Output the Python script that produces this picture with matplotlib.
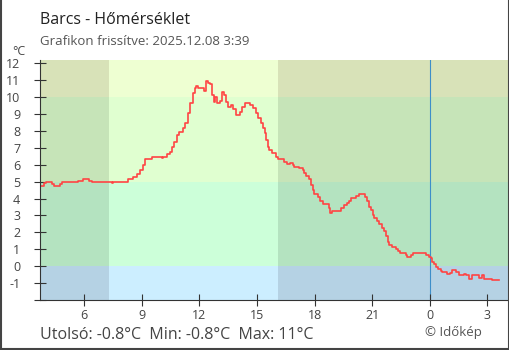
import matplotlib
matplotlib.use('Agg')
import matplotlib.pyplot as plt
from matplotlib.lines import Line2D

plt.rcParams['font.family'] = ['Open Sans', 'DejaVu Sans']

# hours since yesterday's midnight (24 = 0:00 today) and temperature in °C
hours = [3.70, 3.91, 4.01, 4.31, 4.43, 4.74, 4.83, 5.69, 5.92, 6.26, 6.39, 7.45, 7.48,
         8.29, 8.55, 8.73, 8.90, 9.04, 9.17, 9.51, 9.77, 10.05, 10.10, 10.29, 10.46,
         10.55, 10.66, 10.81, 10.94, 11.12, 11.24, 11.41, 11.50, 11.64, 11.76, 11.84,
         11.93, 12.10, 12.22, 12.33, 12.45, 12.57, 12.66, 12.74, 12.83, 12.92, 13.09,
         13.18, 13.26, 13.37, 13.49, 13.66, 13.75, 13.92, 14.10, 14.24, 14.36, 14.61,
         14.79, 14.93, 15.05, 15.22, 15.31, 15.39, 15.48, 15.57, 15.65, 15.79, 15.97,
         16.09, 16.43, 16.55, 16.73, 16.87, 16.95, 17.18, 17.39, 17.47, 17.56, 17.70,
         17.79, 17.91, 17.99, 18.17, 18.30, 18.43, 18.74, 18.82, 18.91, 19.38, 19.55,
         19.67, 19.78, 19.90, 20.02, 20.16, 20.30, 20.64, 20.73, 20.85, 20.94, 21.02,
         21.11, 21.23, 21.37, 21.49, 21.60, 21.72, 21.84, 21.89, 22.01, 22.24, 22.37,
         22.45, 22.76, 22.84, 23.02, 23.14, 23.28, 23.80, 23.97, 24.06, 24.14, 24.23,
         24.32, 24.45, 24.58, 24.66, 24.92, 25.05, 25.18, 25.39, 25.53, 25.79, 25.88,
         26.05, 26.22, 26.57, 26.71, 26.83, 27.26, 27.63]
temps = [4.77, 4.90, 5.00, 4.85, 4.72, 4.85, 5.00, 5.06, 5.16, 5.06, 5.00, 4.90, 5.00,
         5.14, 5.30, 5.46, 5.69, 5.99, 6.33, 6.44, 6.48, 6.40, 6.48, 6.62, 6.74,
         7.04, 7.37, 7.76, 7.96, 8.16, 8.45, 9.05, 9.64, 10.23, 10.52, 10.66,
         10.52, 10.55, 10.38, 10.97, 10.82, 10.76, 10.13, 9.73, 10.03, 9.67, 9.78,
         10.29, 10.13, 9.73, 9.44, 9.54, 9.28, 8.94, 9.14, 9.44, 9.67, 9.54,
         9.34, 9.05, 8.75, 8.45, 8.16, 7.86, 7.47, 7.07, 6.88, 6.72, 6.48,
         6.33, 6.18, 6.03, 6.08, 5.99, 5.89, 5.79, 5.69, 5.50, 5.34, 5.14,
         4.81, 4.51, 4.28, 4.12, 3.88, 3.68, 3.43, 3.17, 3.27, 3.47, 3.60,
         3.73, 3.87, 4.02, 4.06, 4.16, 4.28, 4.12, 3.83, 3.53, 3.33, 3.03,
         2.84, 2.70, 2.50, 2.25, 2.11, 1.79, 1.46, 1.26, 1.16, 1.01, 0.87,
         0.81, 0.67, 0.57, 0.67, 0.77, 0.81, 0.67, 0.57, 0.47, 0.27, 0.14,
         -0.02, -0.18, -0.26, -0.32, -0.47, -0.41, -0.22, -0.37, -0.51, -0.45, -0.51,
         -0.73, -0.51, -0.71, -0.51, -0.73, -0.83, -0.83]

x_ticks = [6, 9, 12, 15, 18, 21, 24, 27]
x_labels = ['6', '9', '12', '15', '18', '21', '0', '3']
y_ticks = list(range(-2, 13))
y_labels = [''] + [str(v) for v in range(-1, 13)]

# background: temperature bands x day/night
band_edges = [-2, 0, 5, 10, 12.2]
day_colors = ['#cceeff', '#ccffd9', '#e0ffd0', '#eeffd2']
night_colors = ['#b5d2e4', '#b4e3c0', '#c6e4b8', '#d8e2b8']
day_spans = [(7.3, 16.07)]
night_spans = [(3.69, 7.3), (16.07, 28.08)]
now_hour = 24

def fmt(v):
    return f"{round(v, 1):g}"

fig = plt.figure(figsize=(5.1, 3.5), dpi=100)
ax = fig.add_axes([40/510, 50/350, 468/510, 240/350])

for spans, colors in [(day_spans, day_colors), (night_spans, night_colors)]:
    for x0, x1 in spans:
        for i, c in enumerate(colors):
            ax.fill_between([x0, x1], band_edges[i], band_edges[i+1], color=c, lw=0, zorder=0)

ax.axvline(now_hour, color='#3d8ec9', lw=0.8, zorder=1)
ax.step(hours, temps, where='post', color='#ff4444', lw=1.2, zorder=2)

ax.set_xlim(3.69, 28.08)
ax.set_ylim(-2, 12.2)
ax.set_xticks(x_ticks, x_labels)
ax.set_yticks(y_ticks, y_labels)
ax.tick_params(direction='inout', length=8.6, width=0.8, color='#333333',
               labelcolor='#444444', labelsize=9)
ax.tick_params(axis='y', pad=10)
ax.tick_params(axis='x', pad=2)
ax.get_xticklines()[12].set_color('#3d8ec9')
ax.get_xticklines()[13].set_color('#3d8ec9')
for s in ['top', 'right']:
    ax.spines[s].set_visible(False)
for s in ['left', 'bottom']:
    ax.spines[s].set_color('#333333')
    ax.spines[s].set_linewidth(0.8)

fig.text(40/510, 1 - 24/350, 'Barcs - Hőmérséklet', fontsize=11.5, color='#222222', va='baseline')
fig.text(40/510, 1 - 45/350, 'Grafikon frissítve: 2025.12.08 3:39', fontsize=9.5,
         color='#555555', va='baseline')
fig.text(12/510, 1 - 55/350, '°C', fontsize=9, color='#444444', va='baseline')
fig.text(40/510, 1 - 339/350,
         f'Utolsó: {fmt(temps[-1])}°C  Min: {fmt(min(temps))}°C  Max: {fmt(max(temps))}°C',
         fontsize=11.5, color='#444444', va='baseline')
fig.text(482/510, 1 - 336/350, '© Időkép', fontsize=9.5, color='#555555', ha='right', va='baseline')

for xs, ys in [([0.001, 0.001], [0, 1]), ([0.999, 0.999], [0, 1]), ([0, 1], [0.002, 0.002])]:
    fig.add_artist(Line2D(xs, ys, color='#444444', lw=1.5, transform=fig.transFigure))

fig.savefig('out.png', dpi=100)
